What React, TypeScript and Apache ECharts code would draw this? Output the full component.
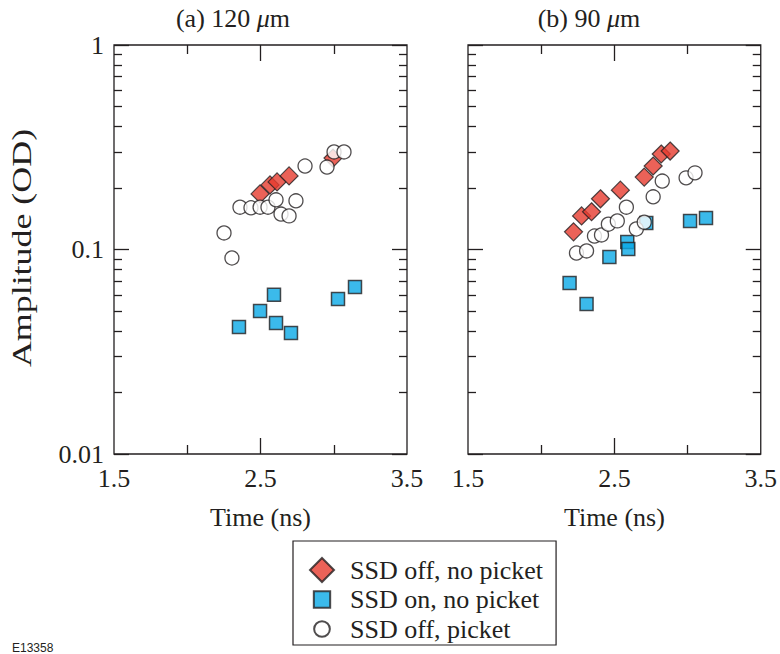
import React, { useEffect, useRef } from "react";
import * as echarts from "echarts";

// ---- data (time in ns, amplitude in OD) ----
const panelA_offNoPicket = [[2.497, 0.187], [2.565, 0.207], [2.613, 0.214], [2.695, 0.229], [2.995, 0.28]];
const panelA_onNoPicket = [[2.353, 0.0418], [2.497, 0.05], [2.592, 0.06], [2.606, 0.0437], [2.708, 0.0391], [3.029, 0.0573], [3.145, 0.0656]];
const panelA_offPicket = [[2.251, 0.1205], [2.305, 0.0909], [2.36, 0.161], [2.435, 0.16], [2.497, 0.161], [2.551, 0.161], [2.606, 0.175], [2.64, 0.149], [2.695, 0.146], [2.742, 0.173], [2.804, 0.256], [2.954, 0.253], [3.002, 0.3], [3.07, 0.3]];

const panelB_offNoPicket = [[2.221, 0.122], [2.276, 0.146], [2.344, 0.153], [2.405, 0.177], [2.541, 0.195], [2.704, 0.226], [2.765, 0.256], [2.82, 0.293], [2.881, 0.303]];
const panelB_onNoPicket = [[2.194, 0.0686], [2.31, 0.0541], [2.466, 0.0919], [2.588, 0.1088], [2.595, 0.1005], [2.718, 0.1348], [3.017, 0.138], [3.126, 0.1426]];
const panelB_offPicket = [[2.241, 0.0961], [2.31, 0.0984], [2.364, 0.1164], [2.412, 0.1178], [2.459, 0.133], [2.52, 0.138], [2.582, 0.161], [2.65, 0.126], [2.704, 0.136], [2.765, 0.181], [2.827, 0.216], [2.99, 0.224], [3.051, 0.237]];

const seriesNames = ["SSD off, no picket", "SSD on, no picket", "SSD off, picket"];
const panelTitles = ["(a) 120 ", "(b) 90 "];
const xLabelValues = [1.5, 2.5, 3.5];
const xMajorTicks = [2.5];
const xMinorTicks = [2, 3];
const yMajorTicks = [0.01, 0.1, 1];
const yMinorTicks = [0.02, 0.03, 0.04, 0.05, 0.06, 0.07, 0.08, 0.09, 0.2, 0.3, 0.4, 0.5, 0.6, 0.7, 0.8, 0.9];

const FONT = '"Liberation Serif", "Times New Roman", serif';
const INK = "#231f20";
const RED = "#e63b2e";
const BLUE = "#0aa9e6";

export default function App() {
  const ref = useRef<HTMLDivElement>(null);
  useEffect(() => {
    if (!ref.current) return;
    const chart = echarts.init(ref.current, null, { renderer: "svg" });

    const grids = [
      { left: 114, top: 45, width: 293, height: 409 },
      { left: 468, top: 45, width: 294, height: 409 },
    ];

    const xAxes: any[] = [];
    const yAxes: any[] = [];
    const tickLine = { color: INK, width: 1.3 };
    grids.forEach((_, g) => {
      const baseX = { type: "value", gridIndex: g, min: 1.5, max: 3.5, interval: 0.5, splitLine: { show: false }, axisLine: { show: false, onZero: false } };
      xAxes.push({
        ...baseX,
        position: "bottom",
        axisTick: { show: true, inside: true, length: 16, customValues: xMajorTicks, lineStyle: tickLine },
        axisLabel: { show: true, customValues: xLabelValues, formatter: (v: number) => v.toFixed(1), margin: 11, fontSize: 26, fontFamily: FONT, color: INK },
        name: "Time (ns)",
        nameLocation: "middle",
        nameGap: 50,
        nameTextStyle: { fontSize: 26, fontFamily: FONT, color: INK },
      });
      xAxes.push({ ...baseX, position: "bottom", axisTick: { show: true, inside: true, length: 9, customValues: xMinorTicks, lineStyle: tickLine }, axisLabel: { show: false } });
      xAxes.push({ ...baseX, position: "top", axisTick: { show: true, inside: true, length: 16, customValues: xMajorTicks, lineStyle: tickLine }, axisLabel: { show: false } });
      xAxes.push({ ...baseX, position: "top", axisTick: { show: true, inside: true, length: 9, customValues: xMinorTicks, lineStyle: tickLine }, axisLabel: { show: false } });

      const baseY = { type: "log", logBase: 10, gridIndex: g, min: 0.01, max: 1, splitLine: { show: false }, minorTick: { show: false }, axisLine: { show: false, onZero: false } };
      yAxes.push({
        ...baseY,
        position: "left",
        axisTick: { show: true, inside: true, length: 15, customValues: yMajorTicks, lineStyle: tickLine },
        axisLabel: {
          show: g === 0,
          customValues: yMajorTicks,
          formatter: (v: number) => (v < 0.05 ? "0.01" : v < 0.5 ? "0.1" : "1"),
          margin: 10,
          fontSize: 26,
          fontFamily: FONT,
          color: INK,
        },
      });
      yAxes.push({ ...baseY, position: "left", axisTick: { show: true, inside: true, length: 8, customValues: yMinorTicks, lineStyle: tickLine }, axisLabel: { show: false } });
      yAxes.push({ ...baseY, position: "right", axisTick: { show: true, inside: true, length: 15, customValues: yMajorTicks, lineStyle: tickLine }, axisLabel: { show: false } });
      yAxes.push({ ...baseY, position: "right", axisTick: { show: true, inside: true, length: 8, customValues: yMinorTicks, lineStyle: tickLine }, axisLabel: { show: false } });
    });

    const panels = [
      [panelA_offNoPicket, panelA_onNoPicket, panelA_offPicket],
      [panelB_offNoPicket, panelB_onNoPicket, panelB_offPicket],
    ];
    const styles = [
      { symbol: "diamond", symbolSize: 18, itemStyle: { color: RED, borderColor: INK, borderWidth: 1.2 } },
      { symbol: "rect", symbolSize: 13, itemStyle: { color: BLUE, borderColor: INK, borderWidth: 1.5 } },
      { symbol: "circle", symbolSize: 14, itemStyle: { color: "#ffffff", borderColor: INK, borderWidth: 1.3 } },
    ];
    const series: any[] = [];
    panels.forEach((sets, g) => {
      sets.forEach((data, k) => {
        series.push({
          type: "scatter",
          name: seriesNames[k],
          xAxisIndex: g * 4,
          yAxisIndex: g * 4,
          data,
          ...styles[k],
        });
      });
    });

    const diamondIcon = "path://M0,0L0,0M24,24L24,24M12,0L24,12L12,24L0,12Z";
    const squareIcon = "path://M0,0L0,0M22,22L22,22M3.5,3.5L18.5,3.5L18.5,18.5L3.5,18.5Z";
    const circleIcon = "path://M0,0L0,0M22,22L22,22M18.2,11A7.2,7.2,0,1,1,3.8,11A7.2,7.2,0,1,1,18.2,11Z";

    chart.setOption({
      animation: false,
      backgroundColor: "#ffffff",
      grid: grids.map((g) => ({ ...g, show: true, borderColor: INK, borderWidth: 1.3, backgroundColor: "transparent" })),
      xAxis: xAxes,
      yAxis: yAxes,
      series,
      legend: {
        left: 293,
        top: 541,
        height: 200,
        orient: "vertical",
        data: [
          { name: seriesNames[0], icon: diamondIcon },
          { name: seriesNames[1], icon: squareIcon },
          { name: seriesNames[2], icon: circleIcon },
        ],
        itemWidth: 46,
        itemHeight: 24,
        itemGap: 3.5,
        padding: [16, 13, 3, 16],
        borderColor: INK,
        borderWidth: 1.2,
        selectedMode: false,
        textStyle: { fontSize: 26, fontFamily: FONT, color: INK, lineHeight: 24 },
      },
      graphic: [
        ...panelTitles.map((t, i) => ({
          type: "text",
          x: i === 0 ? 233 : 589,
          y: 18,
          style: {
            text: t + "{i|μ}m",
            fontSize: 26,
            fontFamily: FONT,
            fill: INK,
            align: "center",
            verticalAlign: "middle",
            rich: { i: { fontStyle: "italic", fontSize: 26, fontFamily: FONT, fill: INK } },
          },
        })),
        {
          type: "text",
          x: 22,
          y: 248,
          rotation: Math.PI / 2,
          scaleX: 1.33,
          style: { text: "Amplitude (OD)", fontSize: 27, fontFamily: FONT, fill: INK, align: "center", verticalAlign: "middle" },
        },
        {
          type: "text",
          x: 12,
          y: 648,
          style: { text: "E13358", fontSize: 12, fontFamily: '"Liberation Sans", Arial, sans-serif', fill: INK, verticalAlign: "middle" },
        },
      ],
    });
    return () => chart.dispose();
  }, []);
  return <div ref={ref} style={{ position: "absolute", left: 0, top: 0, width: 780, height: 654 }} />;
}
